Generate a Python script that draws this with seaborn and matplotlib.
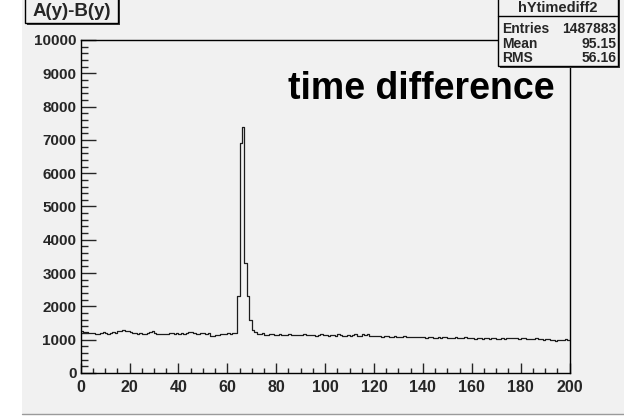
import numpy as np
import pandas as pd
import matplotlib
matplotlib.use("Agg")
import matplotlib.pyplot as plt
from matplotlib.patches import Rectangle
from matplotlib.lines import Line2D
from matplotlib.ticker import MultipleLocator
import seaborn as sns

sns.set_style("ticks")
plt.rcParams["font.family"] = ["Liberation Sans", "DejaVu Sans"]
plt.rcParams["font.weight"] = "bold"

# Histogram hYtimediff2: 200 bins of width 1 on [0, 200]
x_min, x_max, n_bins = 0, 200, 200

# bins 0-63 (flat region before the coincidence peak)
counts_before = [
    1260, 1230, 1220, 1200, 1190, 1210, 1180, 1170, 1190, 1230,
    1200, 1170, 1190, 1240, 1200, 1250, 1270, 1280, 1250, 1260,
    1230, 1200, 1190, 1180, 1200, 1170, 1180, 1190, 1230, 1250,
    1190, 1170, 1160, 1170, 1180, 1170, 1190, 1210, 1180, 1190,
    1170, 1200, 1180, 1190, 1220, 1230, 1190, 1180, 1170, 1190,
    1200, 1180, 1190, 1120, 1110, 1140, 1150, 1170, 1160, 1180,
    1200, 1170, 1210, 1190,
]
# bins 64-70 (peak)
counts_peak = [2300, 6900, 7400, 3300, 2300, 1600, 1300]
# bins 71-199 (slowly falling tail)
counts_after = [
    1220, 1180, 1160, 1190, 1150, 1140, 1170, 1160, 1150, 1140,
    1160, 1150, 1140, 1130, 1170, 1150, 1140, 1130, 1140, 1150,
    1180, 1140, 1130, 1150, 1140, 1120, 1130, 1170, 1140, 1130,
    1120, 1140, 1130, 1120, 1160, 1130, 1120, 1110, 1140, 1120,
    1130, 1170, 1120, 1110, 1160, 1130, 1170, 1120, 1110, 1100,
    1110, 1100, 1090, 1100, 1110, 1090, 1080, 1100, 1090, 1080,
    1090, 1100, 1080, 1070, 1090, 1080, 1070, 1080, 1090, 1070,
    1060, 1080, 1070, 1060, 1050, 1070, 1060, 1080, 1070, 1050,
    1060, 1050, 1070, 1060, 1040, 1050, 1070, 1060, 1050, 1040,
    1030, 1050, 1040, 1030, 1060, 1040, 1030, 1050, 1040, 1030,
    1020, 1040, 1030, 1050, 1040, 1060, 1050, 1040, 1030, 1050,
    1040, 1020, 1030, 1010, 1020, 1040, 1030, 1010, 1000, 1020,
    1010, 1000, 990, 970, 980, 1000, 990, 1010, 1000,
]

hist_title = "A(y)-B(y)"
hist_name = "hYtimediff2"
stat_labels = ["Entries", "Mean", "RMS"]
stat_values = ["1487883", "95.15", "56.16"]
annotation = "time difference"
x_ticks = [0, 20, 40, 60, 80, 100, 120, 140, 160, 180, 200]
y_ticks = [0, 1000, 2000, 3000, 4000, 5000, 6000, 7000, 8000, 9000, 10000]

counts = counts_before + counts_peak + counts_after
edges = np.linspace(x_min, x_max, n_bins + 1)
centers = 0.5 * (edges[:-1] + edges[1:])
df = pd.DataFrame({"dt": centers, "n": counts})

W, H = 624, 416
pad_col = "#f1f1f1"
fig = plt.figure(figsize=(W / 100, H / 100), dpi=100, facecolor="white")


def fx(px):
    return px / W


def fy(py):
    return 1 - py / H


# canvas pad
fig.add_artist(Rectangle((fx(22), fy(414)), fx(W - 22), 414 / H,
                         transform=fig.transFigure, facecolor=pad_col,
                         edgecolor="none", zorder=0))
fig.add_artist(Line2D([fx(22), 1], [fy(414), fy(414)], transform=fig.transFigure,
                      color="#9a9a9a", lw=1.0, zorder=0))

left, right, top, bottom = 80.6, 569.6, 40, 373
ax = fig.add_axes([fx(left), fy(bottom), fx(right - left), (bottom - top) / H])
ax.set_facecolor(pad_col)

sns.histplot(data=df, x="dt", weights="n", binwidth=1, binrange=(x_min, x_max),
             element="step", fill=False, color="#1c1c1c", linewidth=0.9, ax=ax)

ax.set_xlim(x_min, x_max)
ax.set_ylim(0, 10000)
ax.set_xlabel("")
ax.set_ylabel("")
ax.set_xticks(x_ticks)
ax.set_yticks(y_ticks)
ax.xaxis.set_minor_locator(MultipleLocator(5))
ax.yaxis.set_minor_locator(MultipleLocator(200))
for s in ax.spines.values():
    s.set_visible(True)
    s.set_color("black")
    s.set_linewidth(1.0)
ax.tick_params(axis="x", which="major", direction="in", length=7.3, width=1.0,
               labelsize=11.5, pad=5, top=False)
ax.tick_params(axis="x", which="minor", direction="in", length=3.6, width=1.0, top=False)
ax.tick_params(axis="y", which="major", direction="in", length=10.6, width=1.0,
               labelsize=11, pad=3, right=False)
ax.tick_params(axis="y", which="minor", direction="in", length=5.3, width=1.0, right=False)
for lab in ax.get_xticklabels() + ax.get_yticklabels():
    lab.set_fontweight("bold")

# large annotation inside the frame
fig.text(fx(288), fy(99), annotation, fontsize=27, fontweight="bold",
         ha="left", va="baseline", color="black")


def boxed(x0, y0, x1, y1):
    # shadow then box, pixel coordinates measured from the top-left corner
    fig.add_artist(Rectangle((fx(x0 + 2), fy(y1 + 2)), fx(x1 - x0), (y1 - y0) / H,
                             transform=fig.transFigure, facecolor="#3a3a3a",
                             edgecolor="none", zorder=5))
    fig.add_artist(Rectangle((fx(x0), fy(y1)), fx(x1 - x0), (y1 - y0) / H,
                             transform=fig.transFigure, facecolor=pad_col,
                             edgecolor="black", lw=1.0, zorder=6))


# histogram title box
boxed(25, -2, 118, 23)
fig.text(fx(71.5), fy(11.5), hist_title, fontsize=13.5, fontweight="bold",
         ha="center", va="center", zorder=7)

# statistics box
boxed(498, -2, 618, 65.5)
fig.add_artist(Line2D([fx(498), fx(618)], [fy(16), fy(16)], transform=fig.transFigure,
                      color="black", lw=1.0, zorder=7))
fig.text(fx(558), fy(8.5), hist_name, fontsize=10.5, fontweight="bold",
         ha="center", va="center", zorder=7)
for i, (lab, val) in enumerate(zip(stat_labels, stat_values)):
    yc = 29 + i * 14.6
    fig.text(fx(502.5), fy(yc), lab, fontsize=10, fontweight="bold",
             ha="left", va="center", zorder=7)
    fig.text(fx(616.5), fy(yc), val, fontsize=10, fontweight="bold",
             ha="right", va="center", zorder=7)

fig.savefig("out.png", dpi=100, facecolor=fig.get_facecolor())
